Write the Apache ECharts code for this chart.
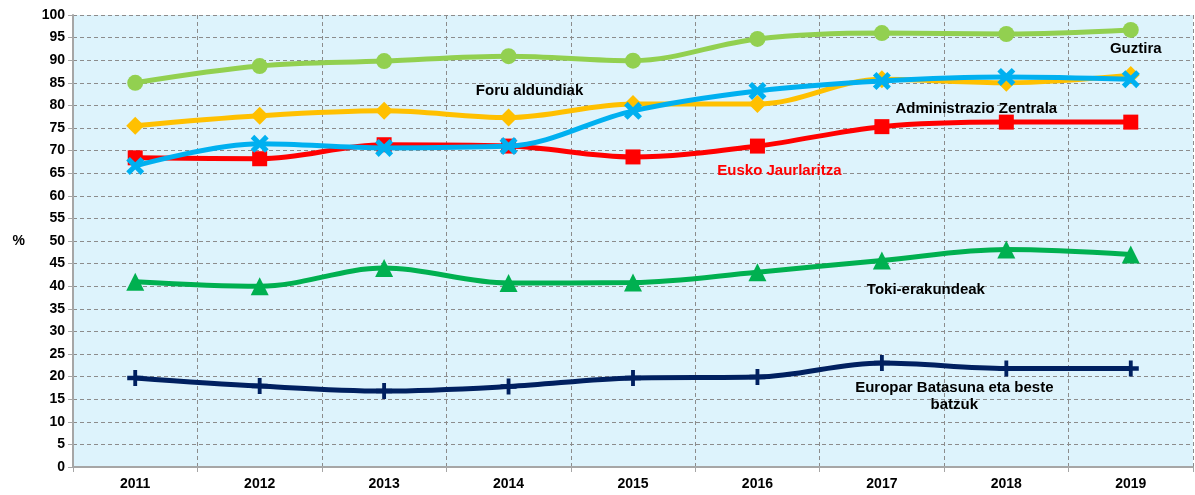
<!DOCTYPE html>
<html>
<head>
<meta charset="utf-8">
<script src="https://cdn.jsdelivr.net/npm/echarts@6/dist/echarts.min.js"></script>
<style>
  html, body { margin: 0; padding: 0; background: #fff; }
  #main { width: 1195px; height: 495px; }
</style>
</head>
<body>
<div id="main"></div>
<script>
var years = ['2011', '2012', '2013', '2014', '2015', '2016', '2017', '2018', '2019'];
var yTicks = { min: 0, max: 100, interval: 5 };

var guztira = [85.0, 88.7, 89.8, 90.9, 89.9, 94.7, 96.0, 95.8, 96.7];
var foruAldundiak = [75.5, 77.7, 78.8, 77.3, 80.3, 80.3, 85.8, 85.0, 86.7];
var adminZentrala = [66.6, 71.5, 70.6, 71.0, 78.8, 83.2, 85.4, 86.3, 85.8];
var euskoJaurlaritza = [68.4, 68.2, 71.3, 71.0, 68.6, 71.0, 75.3, 76.3, 76.3];
var tokiErakundeak = [41.0, 40.0, 44.0, 40.7, 40.8, 43.1, 45.7, 48.1, 47.0];
var europar = [19.7, 17.9, 16.8, 17.8, 19.7, 19.9, 23.0, 21.8, 21.8];

var xPath = 'path://M2,0 L5,3 L8,0 L10,2 L7,5 L10,8 L8,10 L5,7 L2,10 L0,8 L3,5 L0,2 Z';
var plusPath = 'path://M3.8,0 H6.2 V3.6 H10 V6.4 H6.2 V10 H3.8 V6.4 H0 V3.6 H3.8 Z';

var labelFont = { fontFamily: 'Liberation Sans', fontWeight: 'bold', fontSize: 15 };
var axisFont = { color: '#000', fontFamily: 'Liberation Sans', fontWeight: 'bold', fontSize: 14 };

// put a text label on one point of a series
function withLabel(values, idx, text, color, offset) {
    return values.map(function (v, i) {
        if (i !== idx) return v;
        return {
            value: v,
            label: Object.assign({
                show: true,
                formatter: text,
                color: color,
                position: 'inside',
                offset: offset,
                align: 'center',
                lineHeight: 17
            }, labelFont)
        };
    });
}

function line(name, data, color, symbol, size, z) {
    return {
        name: name,
        type: 'line',
        smooth: 0.35,
        data: data,
        z: z,
        symbol: symbol,
        symbolSize: size,
        lineStyle: { color: color, width: 5 },
        itemStyle: { color: color },
        emphasis: { disabled: true }
    };
}

var myChart = echarts.init(document.getElementById('main'));

var option = {
    animation: false,
    grid: {
        left: 73, right: 2, top: 15, bottom: 28,
        show: true, backgroundColor: '#ddf3fc', borderWidth: 0
    },
    xAxis: {
        type: 'category',
        data: years,
        boundaryGap: true,
        axisLine: { lineStyle: { color: '#a6a6a6', width: 2 } },
        axisTick: { show: true, length: 5, lineStyle: { color: '#a6a6a6' } },
        axisLabel: Object.assign({ margin: 10 }, axisFont),
        splitLine: { show: true, lineStyle: { color: '#8c8c8c', type: [4, 3], width: 1 } }
    },
    yAxis: {
        type: 'value',
        min: yTicks.min,
        max: yTicks.max,
        interval: yTicks.interval,
        name: '%',
        nameLocation: 'middle',
        nameRotate: 0,
        nameGap: 48,
        nameTextStyle: axisFont,
        axisLine: { show: true, lineStyle: { color: '#a6a6a6', width: 2 } },
        axisTick: { show: true, length: 5, lineStyle: { color: '#a6a6a6' } },
        axisLabel: Object.assign({ margin: 8 }, axisFont),
        splitLine: { show: true, lineStyle: { color: '#8c8c8c', type: [4, 3], width: 1 } }
    },
    series: [
        line('Europar Batasuna eta beste batzuk',
            withLabel(europar, 7, 'Europar Batasuna eta beste\nbatzuk', '#000', [-52, 28]),
            '#002060', plusPath, 16, 2),
        line('Toki-erakundeak',
            withLabel(tokiErakundeak, 6, 'Toki-erakundeak', '#000', [44, 29]),
            '#00b050', 'triangle', 18, 3),
        line('Eusko Jaurlaritza',
            withLabel(euskoJaurlaritza, 5, 'Eusko Jaurlaritza', '#ff0000', [22, 25]),
            '#ff0000', 'rect', 15, 4),
        line('Guztira',
            withLabel(guztira, 8, 'Guztira', '#000', [5, 19]),
            '#92d050', 'circle', 16, 5),
        line('Foru aldundiak',
            withLabel(foruAldundiak, 3, 'Foru aldundiak', '#000', [21, -27]),
            '#ffc000', 'diamond', 18, 6),
        line('Administrazio Zentrala',
            withLabel(adminZentrala, 7, 'Administrazio Zentrala', '#000', [-30, 32]),
            '#00b0f0', xPath, 18, 7)
    ]
};

myChart.setOption(option);
</script>
</body>
</html>
